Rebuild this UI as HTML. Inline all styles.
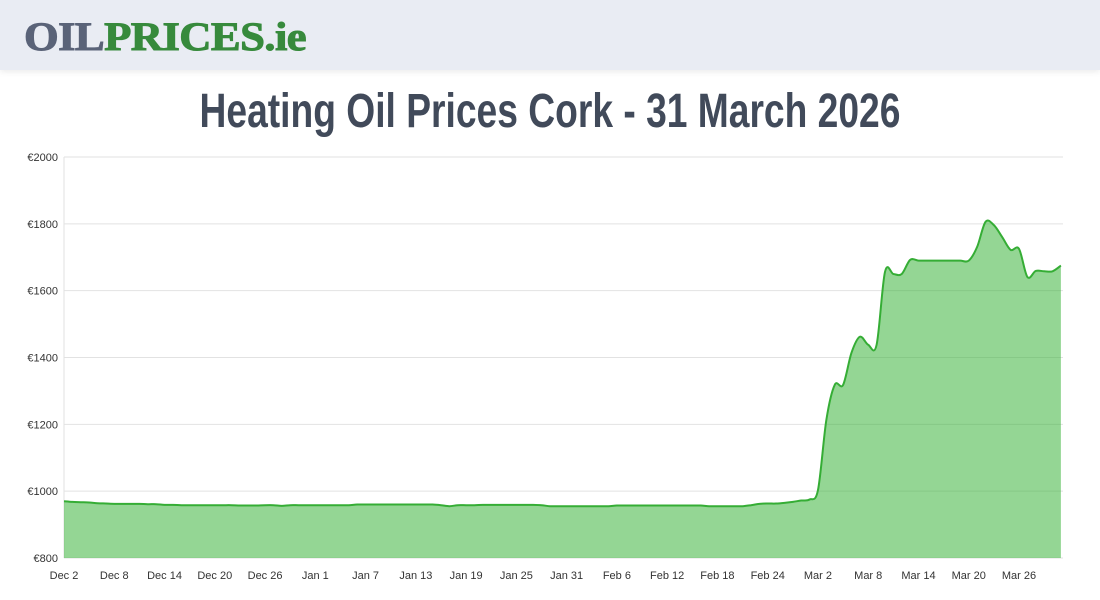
<!DOCTYPE html>
<html><head><meta charset="utf-8"><style>
body{margin:0;width:1100px;height:600px;background:#fff;font-family:"Liberation Sans",sans-serif;overflow:hidden;position:relative}
#hdr{position:absolute;left:0;top:0;width:1100px;height:70px;background:#e9ecf3;box-shadow:0 2px 6px rgba(0,0,0,0.08)}
#logo{position:absolute;left:24px;top:17px;font-family:"Liberation Serif",serif;font-weight:bold;font-size:40px;line-height:40px;letter-spacing:-0.5px;transform:scaleX(1.115);transform-origin:left;-webkit-text-stroke:1px currentColor}
#title{position:absolute;left:0;width:1100px;top:84px;text-align:center;font-family:"Liberation Sans Narrow","Liberation Sans",sans-serif;font-weight:bold;font-size:48px;color:#414a5a;transform:scaleX(0.775);transform-origin:550px 0}
svg{position:absolute;left:0;top:0}
</style></head><body>
<div id="hdr"><div id="logo"><span style="color:#5a6378">OIL</span><span style="color:#378a3c">PRICES.ie</span></div></div>
<div id="title">Heating Oil Prices Cork - 31 March 2026</div>
<svg id="chart" width="1100" height="600"></svg>
<script>
const tickValues=[800,1000,1200,1400,1600,1800,2000];
const tickLabels=["€800","€1000","€1200","€1400","€1600","€1800","€2000"];
const xLabels=["Dec 2","Dec 8","Dec 14","Dec 20","Dec 26","Jan 1","Jan 7","Jan 13","Jan 19","Jan 25","Jan 31","Feb 6","Feb 12","Feb 18","Feb 24","Mar 2","Mar 8","Mar 14","Mar 20","Mar 26"];
const prices=[970,968,967,966,964,963,962,962,962,962,961,961,959,959,958,958,958,958,958,958,958,957,957,957,958,958,956,958,958,958,958,958,958,958,958,960,960,960,960,960,960,960,960,960,960,958,955,958,958,958,959,959,959,959,959,959,959,958,955,955,955,955,955,955,955,955,957,957,957,957,957,957,957,957,957,957,957,955,955,955,955,955,958,962,963,963,965,968,972,975,1003,1213,1318,1318,1414,1462,1438,1438,1656,1650,1650,1692,1690,1690,1690,1690,1690,1690,1690,1731,1806,1796,1760,1722,1725,1641,1659,1658,1658,1675];
const svg=document.getElementById('chart');const NS='http://www.w3.org/2000/svg';
const X0=64,X1=1063,Y0=558,Y1=157,DAYS=119.25;
const xs=i=>X0+i*(X1-X0)/DAYS;
const ys=v=>Y0-(v-800)*(Y0-Y1)/1200;
function mk(t,a){const e=document.createElementNS(NS,t);for(const k in a)e.setAttribute(k,a[k]);svg.appendChild(e);return e;}
tickValues.forEach((v,i)=>{
 const g=mk('line',{x1:X0,x2:X1,y1:ys(v),y2:ys(v),stroke:'#e2e2e2','stroke-width':1});
 
 
 const t=mk('text',{x:X0-6,y:ys(v)+4,'text-anchor':'end','font-size':11,fill:'#333'});t.textContent=tickLabels[i];
 
 
});
const ax=mk('line',{x1:X0,x2:X0,y1:Y1,y2:Y0,stroke:'#e2e2e2'});


xLabels.forEach((l,i)=>{
 const t=mk('text',{x:xs(i*6),y:579,'text-anchor':'middle','font-size':11,fill:'#333'});t.textContent=l;
 
 
});
const P=prices.map((v,i)=>[xs(i),ys(v)]);
const last=P[P.length-1][0];
let d='M'+P[0][0]+','+P[0][1];
for(let i=0;i<P.length-1;i++){const p0=P[Math.max(0,i-1)],p1=P[i],p2=P[i+1],p3=P[Math.min(P.length-1,i+2)];const k=0.5/3;
 d+=` C${p1[0]+(p2[0]-p0[0])*k},${p1[1]+(p2[1]-p0[1])*k} ${p2[0]-(p3[0]-p1[0])*k},${p2[1]-(p3[1]-p1[1])*k} ${p2[0]},${p2[1]}`;}
const area=mk('path',{d:d+` L${last},${Y0} L${X0},${Y0} Z`,fill:'rgba(60,180,60,0.55)',stroke:'none'});


const line=mk('path',{d:d,fill:'none',stroke:'#35ad35','stroke-width':2});


</script>
</body></html>
